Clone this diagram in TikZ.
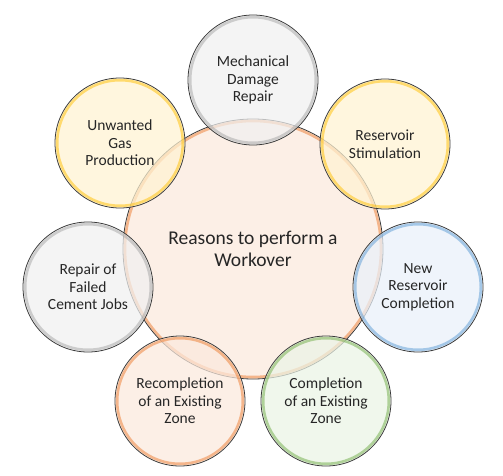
\documentclass[tikz,border=0pt]{standalone}
\usepackage{fontspec}
\setmainfont{Carlito}
\definecolor{txt}{HTML}{262626}
\definecolor{edge}{HTML}{3A3A3A}
\definecolor{orA}{HTML}{ED7D31}\definecolor{orF}{HTML}{FBE9DD}
\definecolor{yeA}{HTML}{FFC000}\definecolor{yeF}{HTML}{FFF3D2}
\definecolor{grA}{HTML}{A5A5A5}\definecolor{grF}{HTML}{F0F0F0}
\definecolor{blA}{HTML}{5B9BD5}\definecolor{blF}{HTML}{E9F1FA}
\definecolor{gnA}{HTML}{70AD47}\definecolor{gnF}{HTML}{EBF4E6}
\tikzset{
  bubble/.style={circle, draw=edge, line width=0.8pt, fill opacity=0.72, text opacity=1,
    text=txt, align=center, inner sep=0pt, font=\fontsize{15.5}{17.5}\selectfont},
  small/.style={bubble, minimum size=130pt},
  big/.style={bubble, minimum size=260pt, font=\fontsize{19.5}{21.5}\selectfont},
  rim/.style={line width=2.6pt, draw opacity=0.5},
}
\begin{document}
\begin{tikzpicture}[x=1pt,y=-1pt]
\useasboundingbox (0,0) rectangle (503,476);
\fill[white] (0,0) rectangle (503,476);
\node[big, fill=orF] (c) at (253,249) {Reasons to perform a\\Workover};
\draw[rim, orA] (c.center) circle (128);
\node[small, fill=grF] (m) at (253,80) {Mechanical\\Damage\\Repair};
\draw[rim, grA] (m.center) circle (62.8);
\node[small, fill=yeF] (rs) at (385,144) {Reservoir\\Stimulation};
\draw[rim, yeA] (rs.center) circle (62.8);
\node[small, fill=blF] (nr) at (418,287) {New\\Reservoir\\Completion};
\draw[rim, blA] (nr.center) circle (62.8);
\node[small, fill=gnF] (ce) at (326,401) {Completion\\of an Existing\\Zone};
\draw[rim, gnA] (ce.center) circle (62.8);
\node[small, fill=orF] (re) at (180,401) {Recompletion\\of an Existing\\Zone};
\draw[rim, orA] (re.center) circle (62.8);
\node[small, fill=grF] (rf) at (88,287) {Repair of\\Failed\\Cement Jobs};
\draw[rim, grA] (rf.center) circle (62.8);
\node[small, fill=yeF] (ug) at (120,143) {Unwanted\\Gas\\Production};
\draw[rim, yeA] (ug.center) circle (62.8);
\end{tikzpicture}
\end{document}
